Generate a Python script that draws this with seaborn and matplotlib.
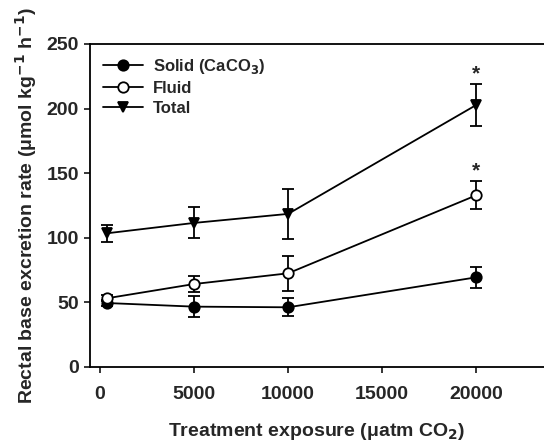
import numpy as np
import pandas as pd
import matplotlib
matplotlib.use("Agg")
import matplotlib.pyplot as plt
import seaborn as sns

# Data
exposure = [380, 5000, 10000, 20000]
solid = [49.5, 46.7, 46.2, 69.4]
solid_err = [2.0, 8.0, 7.0, 8.3]
fluid = [53.2, 64.2, 72.5, 132.9]
fluid_err = [2.5, 6.5, 13.5, 11.0]
total = [103.5, 111.5, 118.5, 202.8]
total_err = [6.5, 12.0, 19.5, 16.5]
series_names = ["Solid (CaCO$_3$)", "Fluid", "Total"]
x_ticks = [0, 5000, 10000, 15000, 20000]
y_ticks = [0, 50, 100, 150, 200, 250]
star_positions = [(20000, 227), (20000, 152)]

sns.set_theme(style="ticks")
plt.rcParams['font.family'] = ['Liberation Sans', 'DejaVu Sans']
plt.rcParams['font.weight'] = 'bold'
plt.rcParams['mathtext.default'] = 'bf'

fig = plt.figure(figsize=(5.44, 4.43), dpi=100)
ax = fig.add_axes([0.1654, 0.1716, 0.8346, 0.7291])

specs = [
    (solid, solid_err, series_names[0], "o", "black"),
    (fluid, fluid_err, series_names[1], "o", "white"),
    (total, total_err, series_names[2], "v", "black"),
]

for i, (vals, errs, name, mk, fc) in enumerate(specs):
    df = pd.DataFrame({"x": exposure, "y": vals})
    ax.errorbar(exposure, vals, yerr=errs, fmt="none", ecolor="black",
                elinewidth=1.3, capsize=4.5, capthick=1.3, zorder=2 + i)
    sns.lineplot(data=df, x="x", y="y", ax=ax, color="black", lw=1.3,
                 marker=mk, markersize=7.5, markerfacecolor=fc,
                 markeredgecolor="black", markeredgewidth=1.3,
                 label=name, zorder=3 + i)

for (sx, sy) in star_positions:
    ax.text(sx, sy, "*", ha="center", va="center", fontsize=15,
            fontweight="bold")

ax.set_xlim(-530, 23600)
ax.set_ylim(0, 250)
ax.set_xticks(x_ticks)
ax.set_yticks(y_ticks)
ax.tick_params(axis="both", labelsize=14, length=4, width=1.3, direction="out")
ax.tick_params(axis="x", pad=10)
ax.tick_params(axis="y", pad=4)
for lab in ax.get_xticklabels() + ax.get_yticklabels():
    lab.set_fontweight("bold")
for s in ["left", "bottom", "top"]:
    ax.spines[s].set_linewidth(1.3)
    ax.spines[s].set_color("black")
ax.spines["right"].set_visible(False)

ax.set_xlabel("Treatment exposure (\u03bcatm CO$_2$)", fontsize=14,
              fontweight="bold", labelpad=13)
ax.set_ylabel("Rectal base excretion rate (\u03bcmol kg$^{-1}$ h$^{-1}$)",
              fontsize=14, fontweight="bold", labelpad=5)

leg = ax.legend(loc="upper left", frameon=False, fontsize=12,
                handlelength=2.4, handletextpad=0.6, labelspacing=0.3,
                borderaxespad=0.4)
for t in leg.get_texts():
    t.set_fontweight("bold")

fig.savefig("out.png", dpi=100)
